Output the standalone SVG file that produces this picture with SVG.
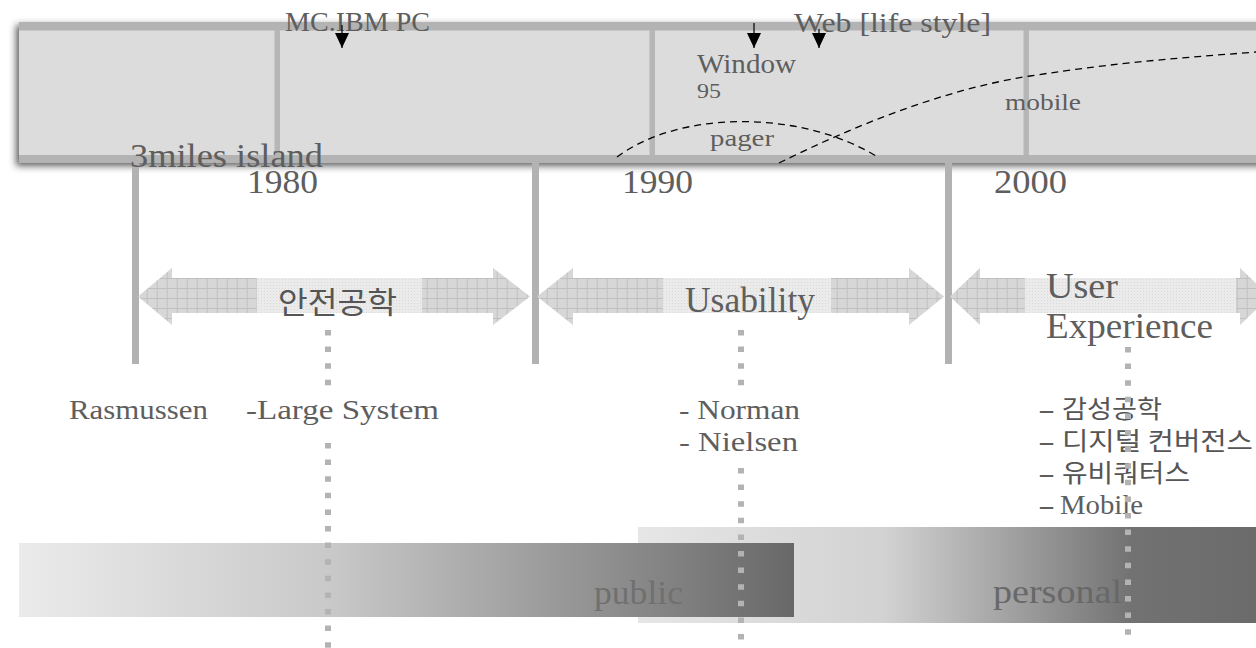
<svg xmlns="http://www.w3.org/2000/svg" width="1256" height="648" viewBox="0 0 1256 648">
  <defs>
    <style>
      .sf{font-family:"Liberation Serif","Times New Roman",serif;fill:#5e5e5e}
      .kr{font-family:"Noto Sans CJK KR","Noto Sans CJK SC",sans-serif;fill:#555555}
      .tick{fill:#b2b2b2}
      .div{fill:#b6b6b6}
      .era{fill:url(#grid)}
      .mid{fill:url(#fine)}
      .guide{stroke:#b3b3b3;stroke-width:6;stroke-dasharray:5.5 11.1;fill:none}
      .curve{stroke:#000;stroke-width:1.3;stroke-dasharray:7 5;fill:none}
      .ptr{stroke:#000;stroke-width:1.2;fill:none;marker-end:url(#head)}
    </style>
    <marker id="head" viewBox="0 0 15 14" refX="15" refY="7" markerWidth="15" markerHeight="14" markerUnits="userSpaceOnUse" orient="auto">
      <path d="M0,0L15,7L0,14z" fill="#000"/>
    </marker>
    <pattern id="grid" width="10" height="10" patternUnits="userSpaceOnUse" x="6.7" y="8">
      <rect width="10" height="10" fill="#d7d7d7"/>
      <path d="M0,0.5H10M0.5,0V10" stroke="#c0c0c0" stroke-width="1"/>
    </pattern>
    <pattern id="fine" width="3" height="3" patternUnits="userSpaceOnUse">
      <rect width="3" height="3" fill="#ebebeb"/>
      <rect width="1" height="1" fill="#d9d9d9"/>
    </pattern>
    <linearGradient id="gPublic" gradientUnits="userSpaceOnUse" x1="19" y1="0" x2="794" y2="0">
      <stop offset="0" stop-color="#ebebeb"/>
      <stop offset="0.4" stop-color="#c9c9c9"/>
      <stop offset="1" stop-color="#686868"/>
    </linearGradient>
    <linearGradient id="gPersonal" gradientUnits="userSpaceOnUse" x1="638" y1="0" x2="1256" y2="0">
      <stop offset="0" stop-color="#e6e6e6"/>
      <stop offset="0.4" stop-color="#d2d2d2"/>
      <stop offset="0.8" stop-color="#727272"/>
      <stop offset="1" stop-color="#6b6b6b"/>
    </linearGradient>
    <filter id="shadow" x="-3%" y="-20%" width="106%" height="140%">
      <feGaussianBlur in="SourceAlpha" stdDeviation="3.5"/>
      <feOffset dx="-3" dy="3" result="b"/>
      <feFlood flood-color="#383838" flood-opacity="0.8"/>
      <feComposite in2="b" operator="in"/>
      <feMerge><feMergeNode/><feMergeNode in="SourceGraphic"/></feMerge>
    </filter>
  </defs>

  <!-- decade banner -->
  <g id="banner">
    <g filter="url(#shadow)">
      <rect x="19" y="22" width="1260" height="141" fill="#dcdcdc"/>
    </g>
    <rect x="19" y="22" width="1260" height="8.5" fill="#b3b3b3"/>
    <rect x="19" y="155" width="1260" height="8" fill="#b3b3b3"/>
    <rect class="div" x="274.5" y="30" width="5.5" height="125"/>
    <rect class="div" x="649.5" y="30" width="5.5" height="125"/>
    <rect class="div" x="1023.5" y="30" width="5.5" height="125"/>
  </g>

  <!-- era boundaries -->
  <g id="ticks">
    <rect class="tick" x="132" y="163" width="7" height="201"/>
    <rect class="tick" x="532" y="163" width="7" height="201"/>
    <rect class="tick" x="945" y="163" width="7" height="201"/>
  </g>

  <!-- events inside the banner -->
  <g id="ev-ibm"><text class="sf" x="285" y="31" font-size="27" textLength="145" lengthAdjust="spacingAndGlyphs">MC.IBM PC</text></g>
  <g id="ev-web"><text class="sf" x="794" y="32" font-size="27" textLength="197" lengthAdjust="spacingAndGlyphs">Web [life style]</text></g>
  <g id="ev-window">
    <text class="sf" x="697" y="73" font-size="28" textLength="99" lengthAdjust="spacingAndGlyphs">Window</text>
    <text class="sf" x="697" y="98" font-size="20" textLength="24" lengthAdjust="spacingAndGlyphs">95</text>
  </g>
  <g id="ev-mobile"><text class="sf" x="1005" y="110" font-size="24" textLength="76" lengthAdjust="spacingAndGlyphs">mobile</text></g>
  <g id="ev-pager"><text class="sf" x="710" y="146" font-size="24" textLength="64" lengthAdjust="spacingAndGlyphs">pager</text></g>
  <g id="ev-tmi"><text class="sf" x="130" y="167" font-size="34" textLength="193" lengthAdjust="spacingAndGlyphs">3miles island</text></g>

  <!-- decades -->
  <g id="y1980"><text class="sf" x="247" y="193" font-size="33" textLength="71" lengthAdjust="spacingAndGlyphs">1980</text></g>
  <g id="y1990"><text class="sf" x="622" y="193" font-size="33" textLength="71" lengthAdjust="spacingAndGlyphs">1990</text></g>
  <g id="y2000"><text class="sf" x="994" y="193" font-size="33" textLength="73" lengthAdjust="spacingAndGlyphs">2000</text></g>

  <!-- eras -->
  <g id="era-safety">
    <polygon class="era" points="138,296.5 172,268 172,278 493,278 493,268 530,296.5 493,325 493,313 172,313 172,325"/>
    <rect class="mid" x="257" y="278" width="165" height="35"/>
    <text class="kr" x="278" y="313" font-size="30" textLength="119" lengthAdjust="spacingAndGlyphs">안전공학</text>
  </g>
  <g id="era-usability">
    <polygon class="era" points="537,296.5 573,268 573,278 909,278 909,268 944,296.5 909,325 909,313 573,313 573,325"/>
    <rect class="mid" x="663" y="278" width="168" height="35"/>
    <text class="sf" x="685" y="312" font-size="35" textLength="130" lengthAdjust="spacingAndGlyphs">Usability</text>
  </g>
  <g id="era-ux">
    <polygon class="era" points="950,296.5 980,268 980,278 1240,278 1240,268 1270,296.5 1240,325 1240,313 980,313 980,325"/>
    <rect class="mid" x="1025" y="278" width="211" height="35"/>
    <text class="sf" x="1046" y="298" font-size="35" textLength="72" lengthAdjust="spacingAndGlyphs">User</text>
    <text class="sf" x="1046" y="338" font-size="35" textLength="167" lengthAdjust="spacingAndGlyphs">Experience</text>
  </g>

  <!-- scope bars -->
  <g id="bar-personal">
    <rect x="638" y="527" width="618" height="96" fill="url(#gPersonal)"/>
    <text class="sf" x="993" y="603" font-size="33" textLength="129" lengthAdjust="spacingAndGlyphs" style="fill:#686868">personal</text>
  </g>
  <g id="bar-public">
    <rect x="19" y="543" width="775" height="74" fill="url(#gPublic)"/>
    <text class="sf" x="594" y="604" font-size="33" textLength="89" lengthAdjust="spacingAndGlyphs" style="fill:#707070">public</text>
  </g>

  <!-- people and topics -->
  <g id="note-safety">
    <text class="sf" x="69" y="419" font-size="27" textLength="139" lengthAdjust="spacingAndGlyphs">Rasmussen</text>
    <text class="sf" x="246" y="419" font-size="27" textLength="193" lengthAdjust="spacingAndGlyphs">-Large System</text>
  </g>
  <g id="note-usability">
    <text class="sf" x="679" y="419" font-size="27" textLength="121" lengthAdjust="spacingAndGlyphs">- Norman</text>
    <text class="sf" x="679" y="451" font-size="27" textLength="119" lengthAdjust="spacingAndGlyphs">- Nielsen</text>
  </g>
  <g id="note-ux">
    <text class="sf" x="1038" y="418" font-size="27" textLength="17" lengthAdjust="spacingAndGlyphs">-</text>
    <text class="sf" x="1038" y="450" font-size="27" textLength="17" lengthAdjust="spacingAndGlyphs">-</text>
    <text class="sf" x="1038" y="482" font-size="27" textLength="17" lengthAdjust="spacingAndGlyphs">-</text>
    <text class="sf" x="1038" y="514" font-size="27" textLength="17" lengthAdjust="spacingAndGlyphs">-</text>
    <text class="kr" x="1062" y="418" font-size="25" textLength="100" lengthAdjust="spacingAndGlyphs">감성공학</text>
    <text class="kr" x="1062" y="450" font-size="25" textLength="191" lengthAdjust="spacingAndGlyphs">디지털 컨버전스</text>
    <text class="kr" x="1062" y="482" font-size="25" textLength="128" lengthAdjust="spacingAndGlyphs">유비쿼터스</text>
    <text class="sf" x="1060" y="514" font-size="27" textLength="83" lengthAdjust="spacingAndGlyphs">Mobile</text>
  </g>

  <!-- connectors: event pointers, trend curves, era guides -->
  <g id="connectors">
    <line class="ptr" x1="342" y1="25" x2="342" y2="48"/>
    <line class="ptr" x1="754" y1="23" x2="754" y2="48"/>
    <line class="ptr" x1="819" y1="29" x2="819" y2="48"/>
    <path class="curve" d="M617,157 C680,110 800,110 876,156"/>
    <path class="curve" d="M779,163 C850,128 940,90 1030,76 S1180,58 1256,52"/>
    <line class="guide" x1="328" y1="330" x2="328" y2="386"/>
    <line class="guide" x1="328" y1="443" x2="328" y2="648"/>
    <line class="guide" x1="741" y1="330" x2="741" y2="386"/>
    <line class="guide" x1="741" y1="468" x2="741" y2="648"/>
    <line class="guide" x1="1128" y1="347" x2="1128" y2="640"/>
  </g>
</svg>
